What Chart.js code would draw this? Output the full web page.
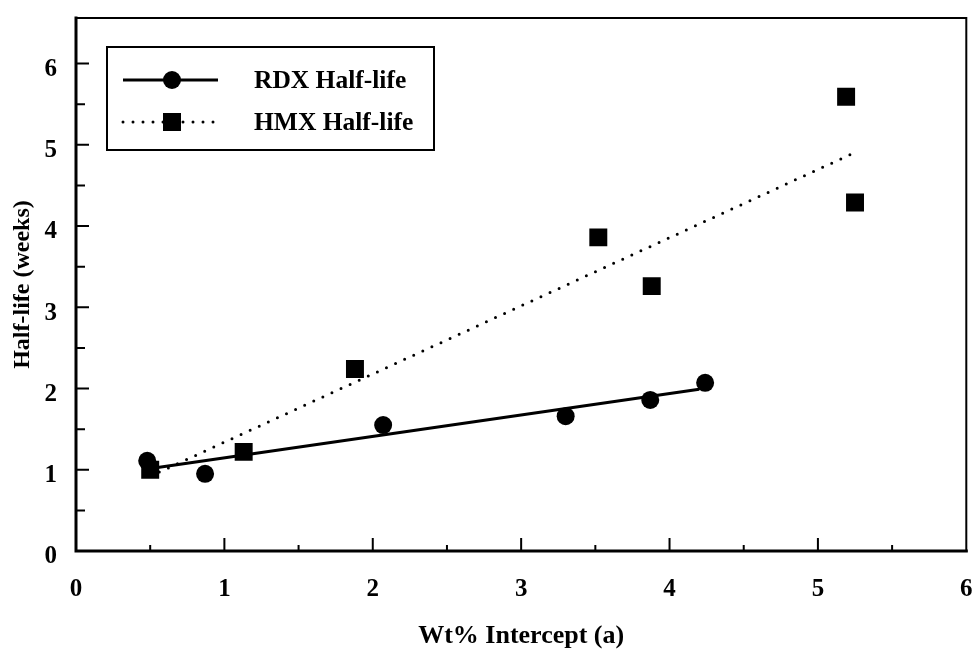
<!DOCTYPE html>
<html>

<head>
    <title>Half-life vs Wt% Intercept</title>
    <script src="https://cdn.jsdelivr.net/npm/chart.js@4.4.0/dist/chart.umd.min.js"></script>
    <style>
        body { margin: 0; background: #fff; }
        #myChart { display: block; }
    </style>
</head>

<body>
    <canvas id="myChart" width="979" height="654"></canvas>
    <script>
        // measured points
        var rdxX = [0.48, 0.87, 2.07, 3.30, 3.87, 4.24];
        var rdxY = [1.11, 0.95, 1.55, 1.66, 1.86, 2.07];
        var hmxX = [0.50, 1.13, 1.88, 3.52, 3.88, 5.19, 5.25];
        var hmxY = [1.00, 1.22, 2.24, 3.86, 3.26, 5.59, 4.29];
        // fitted lines (end points)
        var rdxFitX = [0.48, 4.20];
        var rdxFitY = [1.01, 1.99];
        var hmxFitX = [0.50, 5.22];
        var hmxFitY = [0.92, 4.88];
        var xTicks = [0, 1, 2, 3, 4, 5, 6];
        var yTicks = [0, 1, 2, 3, 4, 5, 6];
        var legendLabels = ['RDX Half-life', 'HMX Half-life'];

        var FONT = "'Liberation Serif', 'Times New Roman', serif";

        function toPoints(xs, ys) {
            var out = [];
            for (var i = 0; i < xs.length; i++) {
                out.push({ x: xs[i], y: ys[i] });
            }
            return out;
        }

        // white background, frame and inward ticks
        var framePlugin = {
            id: 'frame',
            beforeDraw: function (chart) {
                var c = chart.ctx;
                c.save();
                c.fillStyle = '#fff';
                c.fillRect(0, 0, chart.width, chart.height);
                c.restore();
            },
            afterDatasetsDraw: function (chart) {
                var c = chart.ctx, a = chart.chartArea;
                var xs = chart.scales.x, ys = chart.scales.y;
                c.save();
                c.strokeStyle = '#000';
                c.lineCap = 'square';
                // top + right
                c.lineWidth = 2;
                c.beginPath();
                c.moveTo(a.left, a.top); c.lineTo(a.right, a.top); c.lineTo(a.right, a.bottom);
                c.stroke();
                // left + bottom
                c.lineWidth = 3;
                c.beginPath();
                c.moveTo(a.left, a.top); c.lineTo(a.left, a.bottom); c.lineTo(a.right, a.bottom);
                c.stroke();
                // inward ticks
                c.lineWidth = 2;
                c.lineCap = 'butt';
                c.beginPath();
                for (var v = 0.5; v < 6; v += 0.5) {
                    var px = xs.getPixelForValue(v);
                    var len = (v % 1 === 0) ? 13 : 6;
                    c.moveTo(px, a.bottom); c.lineTo(px, a.bottom - len);
                }
                for (var w = 0.5; w < 6.5; w += 0.5) {
                    var py = ys.getPixelForValue(w);
                    var len2 = (w % 1 === 0) ? 13 : 9;
                    c.moveTo(a.left, py); c.lineTo(a.left + len2, py);
                }
                c.stroke();
                c.restore();
            }
        };

        // boxed legend inside the plot
        var legendPlugin = {
            id: 'boxLegend',
            afterDraw: function (chart) {
                var c = chart.ctx, a = chart.chartArea;
                var bx = a.left + 31, by = a.top + 29, bw = 327, bh = 103;
                c.save();
                c.strokeStyle = '#000';
                c.lineWidth = 2;
                c.strokeRect(bx, by, bw, bh);
                var x1 = bx + 16, x2 = bx + 111, mx = bx + 65;
                var rows = [by + 33, by + 75];
                // solid line + circle
                c.lineWidth = 3;
                c.beginPath();
                c.moveTo(x1, rows[0]); c.lineTo(x2, rows[0]);
                c.stroke();
                c.fillStyle = '#000';
                c.beginPath();
                c.arc(mx, rows[0], 9, 0, Math.PI * 2);
                c.fill();
                // dotted line + square
                c.lineWidth = 3;
                c.lineCap = 'round';
                c.setLineDash([0, 10]);
                c.beginPath();
                c.moveTo(x1, rows[1]); c.lineTo(x2, rows[1]);
                c.stroke();
                c.setLineDash([]);
                c.fillRect(mx - 9, rows[1] - 9, 18, 18);
                // text
                c.font = 'bold 25.5px ' + FONT;
                c.textBaseline = 'middle';
                c.textAlign = 'left';
                c.fillText(legendLabels[0], bx + 147, rows[0] + 1);
                c.fillText(legendLabels[1], bx + 147, rows[1] + 1);
                c.restore();
            }
        };

        var ctx = document.getElementById('myChart').getContext('2d');
        var chart = new Chart(ctx, {
            type: 'scatter',
            data: {
                datasets: [{
                    label: 'RDX fit',
                    data: toPoints(rdxFitX, rdxFitY),
                    showLine: true,
                    borderColor: '#000',
                    borderWidth: 3,
                    pointRadius: 0
                }, {
                    label: 'HMX fit',
                    data: toPoints(hmxFitX, hmxFitY),
                    showLine: true,
                    borderColor: '#000',
                    borderWidth: 3,
                    borderDash: [0, 10],
                    borderCapStyle: 'round',
                    pointRadius: 0
                }, {
                    label: legendLabels[0],
                    data: toPoints(rdxX, rdxY),
                    showLine: false,
                    pointStyle: 'circle',
                    pointRadius: 9,
                    backgroundColor: '#000',
                    borderColor: '#000',
                    borderWidth: 0
                }, {
                    label: legendLabels[1],
                    data: toPoints(hmxX, hmxY),
                    showLine: false,
                    pointStyle: 'rect',
                    pointRadius: 12.7,
                    backgroundColor: '#000',
                    borderColor: '#000',
                    borderWidth: 0
                }]
            },
            options: {
                responsive: false,
                animation: false,
                devicePixelRatio: 1,
                layout: { padding: { top: 18, right: 11, left: 0, bottom: 0 } },
                plugins: {
                    legend: { display: false },
                    tooltip: { enabled: false }
                },
                scales: {
                    x: {
                        type: 'linear',
                        min: 0,
                        max: 6,
                        grid: { display: false, drawTicks: false },
                        border: { display: false },
                        afterBuildTicks: function (s) {
                            s.ticks = xTicks.map(function (v) { return { value: v }; });
                        },
                        afterFit: function (s) {
                            s.height = 103;
                            s.paddingLeft = 0;
                            s.paddingRight = 0;
                        },
                        ticks: {
                            padding: 24,
                            color: '#000',
                            font: { family: FONT, size: 25, weight: 'bold' },
                            maxRotation: 0
                        },
                        title: {
                            display: true,
                            text: 'Wt% Intercept (a)',
                            color: '#000',
                            font: { family: FONT, size: 26, weight: 'bold' },
                            padding: { top: 0, bottom: 2 }
                        }
                    },
                    y: {
                        type: 'linear',
                        min: 0,
                        max: 6.56,
                        grid: { display: false, drawTicks: false },
                        border: { display: false },
                        afterBuildTicks: function (s) {
                            s.ticks = yTicks.map(function (v) { return { value: v }; });
                        },
                        afterFit: function (s) {
                            s.width = 76;
                            s.paddingTop = 0;
                            s.paddingBottom = 0;
                        },
                        ticks: {
                            padding: 19,
                            labelOffset: 6,
                            color: '#000',
                            font: { family: FONT, size: 25, weight: 'bold' }
                        },
                        title: {
                            display: true,
                            text: 'Half-life (weeks)',
                            color: '#000',
                            font: { family: FONT, size: 24, weight: 'bold' },
                            padding: { top: 8, bottom: 0 }
                        }
                    }
                }
            },
            plugins: [framePlugin, legendPlugin]
        });
    </script>
</body>

</html>
